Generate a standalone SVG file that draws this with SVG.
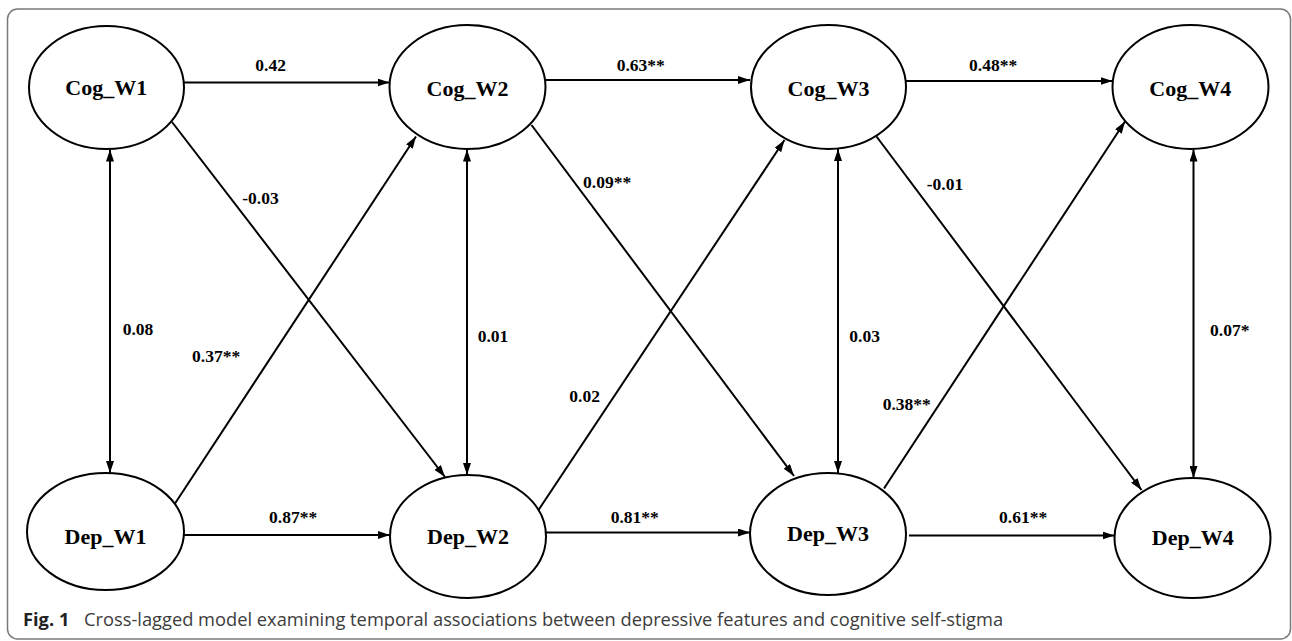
<svg xmlns="http://www.w3.org/2000/svg" width="1292" height="641" viewBox="0 0 1292 641">
<defs>
<style>
.node ellipse{fill:#fff;stroke:#000;stroke-width:2}
.node text{font-family:"Liberation Serif","Times New Roman",serif;font-weight:bold;font-size:22px;fill:#000;text-anchor:middle}
.edges line{stroke:#000;stroke-width:2;fill:none}
.one{marker-end:url(#ah)}
.two{marker-start:url(#ah);marker-end:url(#ah)}
.lbl{font-family:"Liberation Serif","Times New Roman",serif;font-weight:bold;font-size:17.5px;fill:#000}
.cap{font-family:"Open Sans","Noto Sans",sans-serif;font-size:18.3px;fill:#3c3c3c}
</style>
<marker id="ah" viewBox="0 0 12 8" refX="12" refY="4" markerWidth="12" markerHeight="8" markerUnits="userSpaceOnUse" orient="auto-start-reverse">
<path d="M0,0 L12,4 L0,8 Z" fill="#000"/>
</marker>
</defs>
<rect x="0" y="0" width="1292" height="641" fill="#fff"/>
<rect x="7.5" y="9" width="1283" height="630" rx="10" ry="10" fill="none" stroke="#7a7a7a" stroke-width="1.5"/>

<g id="connectors" class="edges">
<line class="one" x1="184" y1="82.5" x2="389.5" y2="82.5"/>
<line class="one" x1="545.5" y1="80" x2="750" y2="80"/>
<line class="one" x1="906" y1="81" x2="1112.5" y2="81"/>
<line class="one" x1="184" y1="535" x2="390" y2="535"/>
<line class="one" x1="546" y1="532.5" x2="750" y2="532.5"/>
<line class="one" x1="909" y1="535.5" x2="1114.5" y2="535.5"/>
<line class="two" x1="110" y1="149.5" x2="110" y2="473"/>
<line class="two" x1="467" y1="149.5" x2="467" y2="475"/>
<line class="two" x1="838" y1="149" x2="838" y2="473"/>
<line class="two" x1="1193.5" y1="149.5" x2="1193.5" y2="478"/>
<line class="one" x1="172" y1="122" x2="445" y2="477"/>
<line class="one" x1="174" y1="505" x2="416" y2="136.5"/>
<line class="one" x1="531.5" y1="125" x2="794" y2="476"/>
<line class="one" x1="538.5" y1="510" x2="784.5" y2="140"/>
<line class="one" x1="876.5" y1="136.5" x2="1141.5" y2="490"/>
<line class="one" x1="884" y1="488.5" x2="1125" y2="121.5"/>
</g>

<g id="edge-labels">
<text class="lbl" x="255.3" y="71">0.42</text>
<text class="lbl" x="616.7" y="70.5">0.63**</text>
<text class="lbl" x="969" y="70.7">0.48**</text>
<text class="lbl" x="242.3" y="204">-0.03</text>
<text class="lbl" x="583" y="188">0.09**</text>
<text class="lbl" x="926.7" y="190">-0.01</text>
<text class="lbl" x="122.7" y="335">0.08</text>
<text class="lbl" x="477.7" y="342.3">0.01</text>
<text class="lbl" x="849.3" y="341.7">0.03</text>
<text class="lbl" x="1210" y="335.7">0.07*</text>
<text class="lbl" x="192" y="362">0.37**</text>
<text class="lbl" x="569.3" y="401.7">0.02</text>
<text class="lbl" x="882.7" y="410">0.38**</text>
<text class="lbl" x="269" y="523">0.87**</text>
<text class="lbl" x="610.7" y="522.7">0.81**</text>
<text class="lbl" x="999" y="523">0.61**</text>
</g>

<g id="Cog_W1" class="node"><ellipse cx="106.5" cy="87.5" rx="77.5" ry="61.5"/><text x="106.3" y="94.5">Cog_W1</text></g>
<g id="Cog_W2" class="node"><ellipse cx="467.5" cy="87" rx="78" ry="62"/><text x="467.5" y="95.5">Cog_W2</text></g>
<g id="Cog_W3" class="node"><ellipse cx="828.5" cy="87" rx="77.5" ry="62"/><text x="828.5" y="95.5">Cog_W3</text></g>
<g id="Cog_W4" class="node"><ellipse cx="1190.5" cy="87" rx="78" ry="62"/><text x="1190.3" y="95.5">Cog_W4</text></g>
<g id="Dep_W1" class="node"><ellipse cx="105.5" cy="531.5" rx="78.5" ry="58.5"/><text x="105.5" y="544">Dep_W1</text></g>
<g id="Dep_W2" class="node"><ellipse cx="468" cy="536.5" rx="78" ry="61.5"/><text x="468" y="544">Dep_W2</text></g>
<g id="Dep_W3" class="node"><ellipse cx="828" cy="534" rx="78" ry="61"/><text x="828" y="541">Dep_W3</text></g>
<g id="Dep_W4" class="node"><ellipse cx="1192.5" cy="538" rx="78" ry="60"/><text x="1192.7" y="545">Dep_W4</text></g>

<g id="caption">
<text class="cap" x="23" y="626"><tspan font-weight="bold" fill="#222">Fig. 1</tspan><tspan x="84">Cross-lagged model examining temporal associations between depressive features and cognitive self-stigma</tspan></text>
</g>
</svg>
